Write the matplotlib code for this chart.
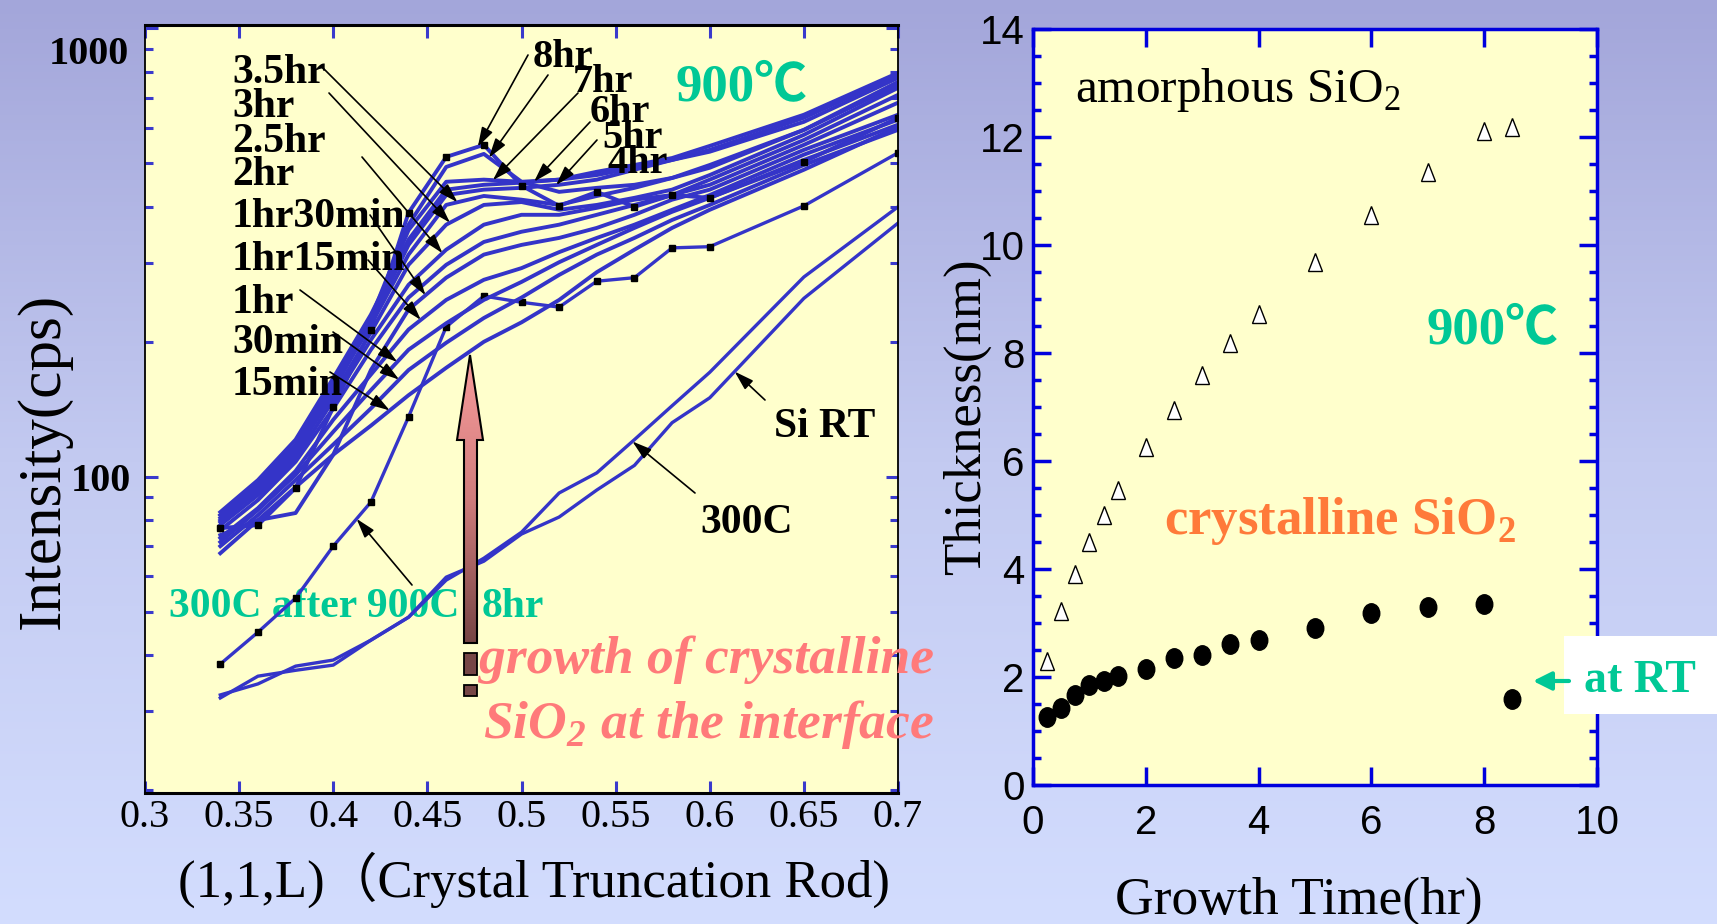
import matplotlib
matplotlib.use('Agg')
import matplotlib.pyplot as plt
import numpy as np
from matplotlib.markers import MarkerStyle
from matplotlib.transforms import Affine2D
from matplotlib.patches import Polygon, Rectangle
from matplotlib.colors import LinearSegmentedColormap
from matplotlib.ticker import LogLocator, NullFormatter, MultipleLocator

plt.rcParams['mathtext.fontset'] = 'custom'
plt.rcParams['mathtext.rm'] = 'Liberation Serif'
plt.rcParams['mathtext.bf'] = 'Liberation Serif:bold'
plt.rcParams['mathtext.bfit'] = 'Liberation Serif:italic:bold'
SERIF = ['Liberation Serif', 'Noto Sans CJK JP']

# ---- left panel: CTR intensity (cps) along (1,1,L)
L_pts = [0.34, 0.36, 0.38, 0.40, 0.42, 0.44, 0.46, 0.48, 0.50, 0.52, 0.54, 0.56, 0.58, 0.60, 0.65, 0.70]

i_15min = [67.5, 80.0, 94.8, 112, 130, 152, 175, 200, 221, 248, 286, 321, 359, 394, 484, 603]
i_30min = [70.0, 82.1, 98.3, 118, 142, 173, 199, 226, 251, 282, 313, 341, 374, 404, 496, 594]
i_1hr = [71.5, 84.3, 101, 126, 156, 192, 220, 248, 272, 301, 329, 359, 390, 419, 509, 610]
i_1hr15 = [73.0, 85.1, 103, 134, 169, 213, 248, 275, 292, 317, 341, 365, 394, 425, 523, 626]
i_1hr30 = [74.1, 80.0, 83.0, 112, 173, 236, 278, 313, 329, 341, 359, 384, 415, 437, 536, 642]
i_2hr = [76.0, 88.7, 108, 142, 192, 251, 297, 334, 352, 365, 384, 404, 425, 448, 550, 683]
i_2hr30 = [78.0, 91.0, 110, 148, 202, 268, 321, 365, 384, 384, 398, 415, 425, 460, 564, 711]
i_3hr = [79.2, 93.4, 114, 152, 210, 297, 365, 404, 410, 394, 404, 419, 437, 471, 579, 737]
i_3hr30 = [82.1, 95.8, 116, 158, 218, 313, 404, 423, 415, 404, 423, 441, 464, 496, 594, 760]
i_4hr = [80.9, 92.4, 112, 156, 221, 329, 425, 437, 441, 448, 460, 484, 509, 531, 619, 776]
i_5hr = [83.4, 98.3, 121, 166, 230, 338, 437, 448, 453, 460, 479, 496, 514, 547, 642, 796]
i_6hr = [80.0, 94.4, 115, 160, 224, 355, 455, 460, 455, 460, 471, 489, 509, 536, 632, 788]
i_7hr = [82.1, 97.3, 118, 164, 226, 365, 491, 525, 455, 432, 441, 448, 464, 489, 594, 749]
i_8hr = [76.8, 78.0, 94.4, 143, 213, 388, 517, 550, 446, 402, 432, 400, 425, 419, 504, 632]

i_si_rt = [32.1, 35.9, 37.0, 38.0, 43.2, 48.6, 59.7, 64.8, 74.5, 81.3, 93.4, 106, 132, 150, 250, 368]
i_300c = [32.6, 34.5, 37.8, 39.0, 43.2, 48.6, 58.8, 65.8, 75.2, 92.0, 102, 121, 144, 171, 279, 400]
i_300c_after = [38.2, 45.0, 53.6, 70.0, 87.8, 136, 216, 253, 245, 239, 273, 278, 324, 326, 402, 528]

x_ticks_left = [0.3, 0.35, 0.4, 0.45, 0.5, 0.55, 0.6, 0.65, 0.7]
x_labels_left = ['0.3', '0.35', '0.4', '0.45', '0.5', '0.55', '0.6', '0.65', '0.7']

# ---- right panel: oxide thickness (nm) vs growth time (hr)
t_hr = [0.25, 0.5, 0.75, 1.0, 1.25, 1.5, 2, 2.5, 3, 3.5, 4, 5, 6, 7, 8]
amorphous = [2.30, 3.22, 3.91, 4.50, 5.00, 5.46, 6.25, 6.95, 7.59, 8.18, 8.72, 9.69, 10.56, 11.36, 12.12]
crystalline = [1.26, 1.43, 1.67, 1.86, 1.92, 2.01, 2.15, 2.36, 2.41, 2.62, 2.69, 2.91, 3.18, 3.29, 3.35]
rt_time = [8.5]
rt_amorphous = [12.18]
rt_crystalline = [1.60]

BLUE = '#3434c8'
GREEN = '#00c896'
PINK = '#ff7a7a'
ORANGE = '#ff7a3a'

W, H = 1717, 924
fig = plt.figure(figsize=(W / 100, H / 100), dpi=100)

# background gradient
bg = fig.add_axes([0, 0, 1, 1], zorder=-10)
bg_cmap = LinearSegmentedColormap.from_list('bg', ['#a3a6da', '#c3caf1', '#d3ddfe'])
bg.imshow(np.linspace(0, 1, 256).reshape(-1, 1), aspect='auto', cmap=bg_cmap,
          extent=[0, 1, 0, 1], origin='upper')
bg.axis('off')

# overlay in pixel coordinates for annotations
ov = fig.add_axes([0, 0, 1, 1], zorder=10)
ov.set_xlim(0, W)
ov.set_ylim(H, 0)
ov.axis('off')
P = ov.transData

ax1 = fig.add_axes([145 / W, 1 - 793 / H, (898 - 145) / W, (793 - 25) / H])
ax2 = fig.add_axes([1033 / W, 1 - 785 / H, (1597 - 1033) / W, (785 - 29) / H])


def txt(ax, x, y, s, size, color='black', weight='bold', style='normal', **kw):
    return ax.text(x, y, s, transform=P, fontsize=size, color=color, fontweight=weight,
                   fontstyle=style, family=SERIF, **kw)


def pointer(ax, start, L, curve):
    v = 10 ** np.interp(L, L_pts, np.log10(curve))
    ax.annotate('', xy=(L, v), xycoords='data', xytext=start, textcoords=P,
                arrowprops=dict(arrowstyle='-|>,head_length=0.42,head_width=0.13',
                                color='black', lw=1.2, mutation_scale=28,
                                shrinkA=0, shrinkB=0))


# ---------- left panel ----------
ax1.set_facecolor('#ffffcc')
ax1.set_yscale('log')
for c in [i_si_rt, i_300c]:
    ax1.plot(L_pts, c, color=BLUE, lw=2.4)
ax1.plot(L_pts, i_300c_after, color=BLUE, lw=2.4, marker='s', ms=4, mfc='k', mec='k')
curves900 = [i_15min, i_30min, i_1hr, i_1hr15, i_1hr30, i_2hr, i_2hr30, i_3hr,
             i_3hr30, i_4hr, i_5hr, i_6hr, i_7hr]
for c in curves900:
    ax1.plot(L_pts, c, color=BLUE, lw=2.8)
ax1.plot(L_pts, i_8hr, color=BLUE, lw=2.8, marker='s', ms=4.5, mfc='k', mec='k')

ax1.set_xlim(0.3, 0.7)
ax1.set_ylim(19.7, 1018)
ax1.set_xticks(x_ticks_left, x_labels_left, fontsize=29, family='Liberation Serif')
ax1.set_yticks([100, 1000], ['100', ''], fontsize=29, family='Liberation Serif',
               fontweight='bold')
ax1.yaxis.set_minor_locator(LogLocator(base=10, subs=np.arange(2, 10)))
ax1.yaxis.set_minor_formatter(NullFormatter())
ax1.tick_params(which='both', direction='in', top=True, right=True,
                colors='#3a3acc', labelcolor='black', width=2.2)
ax1.tick_params(which='major', length=9)
ax1.tick_params(which='minor', length=5.5)
ax1.tick_params(axis='x', pad=4)
ax1.tick_params(axis='y', pad=10)
for s in ['top', 'bottom']:
    ax1.spines[s].set_linewidth(2.2)
for s in ['left', 'right']:
    ax1.spines[s].set_linewidth(1.3)

txt(ax1, 129, 64, '1000', 29, ha='right', va='baseline')
txt(ax1, 44, 461, 'Intensity(cps)', 44, weight='normal', rotation=90, ha='center', va='center')
txt(ax1, 534, 897, '(1,1,L)（Crystal Truncation Rod)', 38, weight='normal', ha='center',
    va='baseline')

labels_900 = [('3.5hr', 83, (321, 66), 0.466, i_3hr30),
              ('3hr', 117, (329, 93), 0.462, i_3hr),
              ('2.5hr', 152, (362, 157), 0.458, i_2hr30),
              ('2hr', 185, None, None, None),
              ('1hr30min', 227, (370, 215), 0.449, i_1hr30),
              ('1hr15min', 270, (368, 260), 0.4465, i_1hr15),
              ('1hr', 313, (300, 290), 0.434, i_1hr),
              ('30min', 353, (333, 332), 0.435, i_30min),
              ('15min', 395, (330, 372), 0.430, i_15min)]
for name, base, start, Lt, c in labels_900:
    txt(ax1, 232, base, name, 30, va='baseline')
    if start is not None:
        pointer(ax1, start, Lt, c)

labels_long = [('8hr', (533, 67), (528, 55), 0.4768, i_8hr),
               ('7hr', (573, 92), (548, 75), 0.4827, i_7hr),
               ('6hr', (590, 122), (578, 93), 0.4848, i_6hr),
               ('5hr', (602, 148), (590, 122), 0.5067, i_5hr),
               ('4hr', (607, 173), (597, 140), 0.5184, i_4hr)]
for name, pos, start, Lt, c in labels_long:
    txt(ax1, pos[0], pos[1], name, 29, va='baseline')
    pointer(ax1, start, Lt, c)

txt(ax1, 675, 100, '900℃', 38, color=GREEN, va='baseline')
txt(ax1, 825, 437, 'Si RT', 30, ha='center', va='baseline')
pointer(ax1, (765, 400), 0.6132, i_si_rt)
txt(ax1, 747, 533, '300C', 30, ha='center', va='baseline')
pointer(ax1, (695, 493), 0.5589, i_300c)
txt(ax1, 169, 617, '300C after 900C', 30, color=GREEN, va='baseline', zorder=1)
txt(ax1, 482, 617, '8hr', 30, color=GREEN, va='baseline', zorder=1)
pointer(ax1, (412, 585), 0.4124, i_300c_after)

# big gradient arrow
arrow_verts = [(464, 643), (477, 643), (477, 440), (483, 440), (470, 355), (457, 440), (464, 440)]
clip = Polygon(arrow_verts, closed=True, fc='none', ec='none')
ov.add_patch(clip)
arr_cmap = LinearSegmentedColormap.from_list('arr', ['#f89c9c', '#d07c7c', '#764444'])
im = ov.imshow(np.linspace(0, 1, 256).reshape(-1, 1), cmap=arr_cmap, aspect='auto',
               extent=[455, 485, 643, 355], origin='upper')
im.set_clip_path(clip)
ov.add_patch(Polygon(arrow_verts, closed=True, fc='none', ec='black', lw=1.5))
ov.add_patch(Rectangle((463.5, 653), 13, 22, fc='#764646', ec='black', lw=1.3))
ov.add_patch(Rectangle((463.5, 685), 13, 11, fc='#764646', ec='black', lw=1.3))
ov.set_xlim(0, W)
ov.set_ylim(H, 0)

txt(ov, 934, 673, 'growth of crystalline', 38.5, color=PINK, style='italic', ha='right',
    va='baseline')
txt(ov, 934, 738, r'SiO$_\mathbfit{2}$ at the interface', 38.5, color=PINK, style='italic',
    ha='right', va='baseline')

# ---------- right panel ----------
ax2.set_facecolor('#ffffcc')
tri = MarkerStyle('^', transform=Affine2D().scale(0.75, 1.0))
dot = MarkerStyle('o', transform=Affine2D().scale(0.85, 1.0))
ax2.plot(t_hr + rt_time, amorphous + rt_amorphous, ls='none', marker=tri, ms=13.5,
         mfc='white', mec='black', mew=1.0)
ax2.plot(t_hr + rt_time, crystalline + rt_crystalline, ls='none', marker=dot, ms=14,
         mfc='black', mec='black')
ax2.set_xlim(0, 10)
ax2.set_ylim(0, 14)
ax2.set_xticks([0, 2, 4, 6, 8, 10])
ax2.set_yticks([0, 2, 4, 6, 8, 10, 12, 14])
ax2.yaxis.set_minor_locator(MultipleLocator(0.5))
ax2.tick_params(which='both', direction='in', top=True, right=True, colors='#0000dd',
                labelcolor='black', width=2.5, labelsize=29,
                labelfontfamily='Liberation Sans')
ax2.tick_params(which='major', length=13)
ax2.tick_params(which='minor', length=5.5)
ax2.tick_params(axis='x', pad=14)
ax2.tick_params(axis='y', pad=6)
for s in ax2.spines.values():
    s.set_color('#0000dd')
    s.set_linewidth(2.5)

txt(ax2, 967, 417, 'Thickness(nm)', 38, weight='normal', rotation=90, ha='center',
    va='center')
txt(ax2, 1299, 914, 'Growth Time(hr)', 38.5, weight='normal', ha='center', va='baseline')
txt(ax2, 1075, 102, r'amorphous SiO$_2$', 35.5, weight='normal', va='baseline')
txt(ax2, 1426, 343, '900℃', 38, color=GREEN, va='baseline')
txt(ax2, 1164, 534, r'crystalline SiO$_\mathbf{2}$', 38, color=ORANGE, va='baseline')

ov.add_patch(Rectangle((1564, 636), 153, 78, fc='white', ec='none'))
txt(ov, 1584, 692, 'at RT', 33, color=GREEN, va='baseline')
ov.annotate('', xy=(1533, 681), xytext=(1569, 681), xycoords='data',
            arrowprops=dict(arrowstyle='-|>,head_length=0.5,head_width=0.25',
                            color=GREEN, lw=3, mutation_scale=22, shrinkA=0, shrinkB=0))

fig.savefig('out.png', dpi=100)
